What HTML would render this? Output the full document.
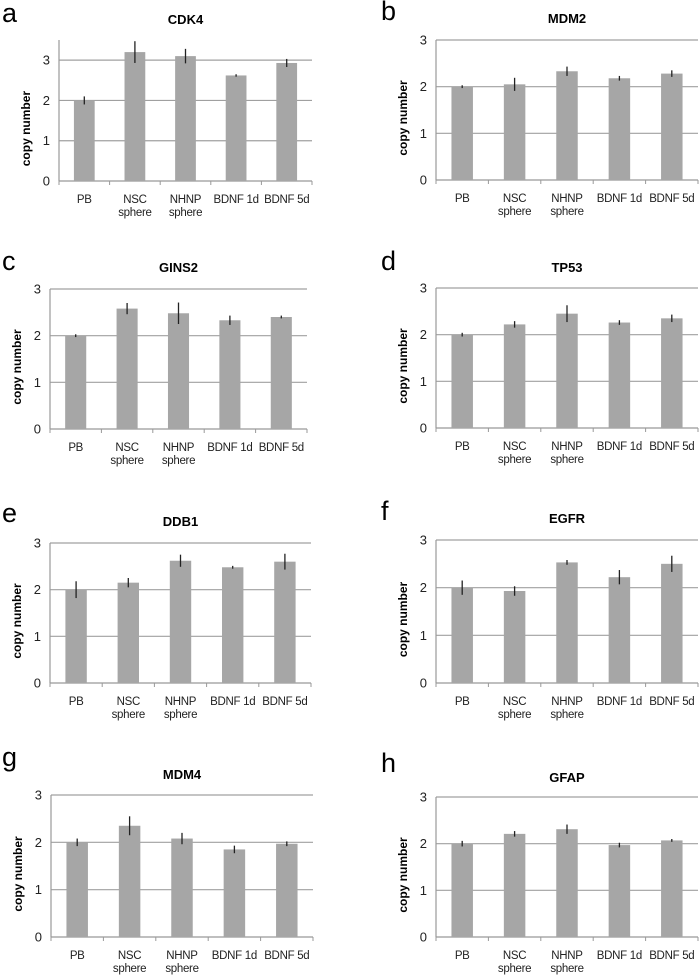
<!DOCTYPE html>
<html><head><meta charset="utf-8"><style>
html,body{margin:0;padding:0;background:#fff;}
svg{display:block;font-family:"Liberation Sans",Arial,sans-serif;}
</style></head><body>
<svg id="fig" width="700" height="976" viewBox="0 0 700 976" xmlns="http://www.w3.org/2000/svg"></svg>
<script>
const categories = [["PB"],["NSC","sphere"],["NHNP","sphere"],["BDNF 1d"],["BDNF 5d"]];
const yTicks = [0,1,2,3];
const cdk4Vals = [2.0,3.2,3.1,2.62,2.93];
const cdk4Err = [0.1,0.27,0.18,0.03,0.1];
const mdm2Vals = [2.0,2.05,2.33,2.18,2.28];
const mdm2Err = [0.03,0.14,0.1,0.05,0.07];
const gins2Vals = [2.0,2.58,2.48,2.33,2.4];
const gins2Err = [0.03,0.12,0.23,0.1,0.03];
const tp53Vals = [2.0,2.22,2.45,2.26,2.35];
const tp53Err = [0.04,0.07,0.18,0.05,0.08];
const ddb1Vals = [2.0,2.15,2.62,2.48,2.6];
const ddb1Err = [0.18,0.1,0.13,0.03,0.17];
const egfrVals = [2.0,1.93,2.53,2.22,2.5];
const egfrErr = [0.15,0.1,0.05,0.15,0.17];
const mdm4Vals = [2.0,2.35,2.08,1.85,1.97];
const mdm4Err = [0.08,0.2,0.12,0.08,0.05];
const gfapVals = [2.0,2.21,2.31,1.97,2.07];
const gfapErr = [0.06,0.06,0.1,0.05,0.03];

const NS="http://www.w3.org/2000/svg";
const svg=document.getElementById('fig');
function mk(tag,attrs,parent,text){const e=document.createElementNS(NS,tag);for(const k in attrs)e.setAttribute(k,attrs[k]);if(text!==undefined)e.textContent=text;(parent||svg).appendChild(e);return e;}

function panel(o){
  const g=mk('g',{});
  
  
  const yMax=o.yMax;
  const yS=v=>o.y0-(o.y0-o.yTop)*v/yMax;
  const bw=(o.x1-o.x0)/categories.length;
  const xS=i=>o.x0+bw*(i+0.5);
  const L=mk('text',{x:o.lx,y:o.ly,'font-size':27,fill:'#000'},g,o.letter);
  
  
  const T=mk('text',{x:(o.x0+o.x1)/2,y:o.ty,'font-size':13,'font-weight':'bold','text-anchor':'middle'},g,o.title);
  
  
  yTicks.forEach(t=>{
    if(t>0){const gl=mk('line',{x1:o.x0,x2:o.x1,y1:yS(t),y2:yS(t),stroke:'#a0a0a0','stroke-width':1.2},g);
      
      }
    const tl=mk('text',{x:o.x0-9,y:yS(t)+4.5,'font-size':13,'text-anchor':'end',fill:'#222'},g,String(t));
    
    
  });
  mk('line',{x1:o.x0,x2:o.x0,y1:o.yTop,y2:o.y0,stroke:'#999','stroke-width':1.2},g);
  mk('line',{x1:o.x0,x2:o.x1,y1:o.y0,y2:o.y0,stroke:'#999','stroke-width':1.2},g);
  for(let i=0;i<=categories.length;i++){mk('line',{x1:o.x0+bw*i,x2:o.x0+bw*i,y1:o.y0,y2:o.y0+4,stroke:'#999'},g);}
  const yl=mk('text',{x:0,y:0,'font-size':12,'font-weight':'bold','text-anchor':'middle',transform:`translate(${o.x0-29},${(o.y0+yS(3))/2+8}) rotate(-90)`},g,'copy number');
  
  
  o.vals.forEach((v,i)=>{
    const w=bw*0.41;
    const b=mk('rect',{x:xS(i)-w/2,y:yS(v),width:w,height:o.y0-yS(v),fill:'#a6a6a6'},g);
    
    
    const e=o.err[i];
    const eb=mk('line',{x1:xS(i),x2:xS(i),y1:yS(v+e),y2:yS(v-e),stroke:'#222','stroke-width':1.3},g);
    
    
    categories[i].forEach((ln,k)=>{
      const cl=mk('text',{x:xS(i),y:o.y0+22+k*13,'font-size':11.5,'letter-spacing':-0.3,'text-anchor':'middle',fill:'#222'},g,ln);
      
      
    });
  });
}
panel({letter:'a',title:'CDK4',vals:cdk4Vals,err:cdk4Err,x0:59,x1:312,yTop:40,y0:181,yMax:3.5,lx:2,ly:22,ty:24});
panel({letter:'b',title:'MDM2',vals:mdm2Vals,err:mdm2Err,x0:436,x1:698,yTop:40,y0:180,yMax:3,lx:381,ly:20,ty:23});
panel({letter:'c',title:'GINS2',vals:gins2Vals,err:gins2Err,x0:50,x1:307,yTop:289,y0:429,yMax:3,lx:2,ly:270,ty:272});
panel({letter:'d',title:'TP53',vals:tp53Vals,err:tp53Err,x0:436,x1:698,yTop:288,y0:428,yMax:3,lx:381,ly:270,ty:272});
panel({letter:'e',title:'DDB1',vals:ddb1Vals,err:ddb1Err,x0:50,x1:311,yTop:543,y0:683,yMax:3,lx:2,ly:522,ty:526});
panel({letter:'f',title:'EGFR',vals:egfrVals,err:egfrErr,x0:436,x1:698,yTop:540,y0:683,yMax:3,lx:381,ly:520,ty:523});
panel({letter:'g',title:'MDM4',vals:mdm4Vals,err:mdm4Err,x0:51,x1:313,yTop:795,y0:937,yMax:3,lx:2,ly:766,ty:779});
panel({letter:'h',title:'GFAP',vals:gfapVals,err:gfapErr,x0:436,x1:698,yTop:797,y0:937,yMax:3,lx:381,ly:772,ty:782});
</script>
</body></html>
